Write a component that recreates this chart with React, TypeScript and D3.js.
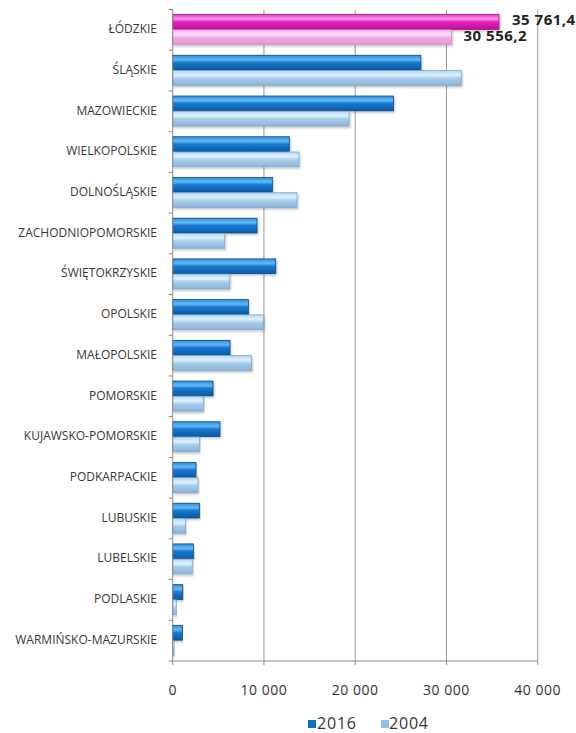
import React from "react";
import * as d3 from "d3";

const categories = [
  "ŁÓDZKIE",
  "ŚLĄSKIE",
  "MAZOWIECKIE",
  "WIELKOPOLSKIE",
  "DOLNOŚLĄSKIE",
  "ZACHODNIOPOMORSKIE",
  "ŚWIĘTOKRZYSKIE",
  "OPOLSKIE",
  "MAŁOPOLSKIE",
  "POMORSKIE",
  "KUJAWSKO-POMORSKIE",
  "PODKARPACKIE",
  "LUBUSKIE",
  "LUBELSKIE",
  "PODLASKIE",
  "WARMIŃSKO-MAZURSKIE",
];
const values2016 = [35761.4, 27200, 24200, 12780, 10920, 9240, 11290, 8290, 6280, 4420, 5180, 2550, 2920, 2260, 1100, 1060];
const values2004 = [30556.2, 31620, 19320, 13840, 13620, 5700, 6250, 9930, 8620, 3360, 2920, 2770, 1420, 2150, 440, 150];
const xTicks = [0, 10000, 20000, 30000, 40000];
const seriesNames = ["2016", "2004"];
const highlightLabels = ["35 761,4", "30 556,2"];

const W = 576;
const H = 733;
const left = 172.7;
const right = 537.7;
const top = 9.5;
const bottom = 661;

const fmt = (v: number) => (v === 0 ? "0" : d3.format(",")(v).replace(/,/g, " "));

export default function App() {
  const x = d3.scaleLinear().domain([0, 40000]).range([left, right]);
  const y = d3.scaleBand<string>().domain(categories).range([top, bottom]).paddingInner(0.25).paddingOuter(0.125);
  const step = y.step();
  const bw = y.bandwidth() / 2;
  const font = "'Open Sans', 'DejaVu Sans', sans-serif";

  const fillFor = (i: number, s: number) => {
    if (i === 0) return s === 0 ? "url(#gPink1)" : "url(#gPink2)";
    return s === 0 ? "url(#gBlue1)" : "url(#gBlue2)";
  };
  const strokeFor = (i: number, s: number) => {
    if (i === 0) return s === 0 ? "#a8108a" : "#d890cc";
    return s === 0 ? "#0b4a86" : "#7fa8cf";
  };

  return (
    <svg width={W} height={H} style={{ position: "absolute", left: 0, top: 0, background: "#fff" }} fontFamily={font}>
      <defs>
        <linearGradient id="gBlue1" x1="0" y1="0" x2="0" y2="1">
          <stop offset="0" stopColor="#2d8ee2" />
          <stop offset="0.3" stopColor="#62b9f5" />
          <stop offset="0.5" stopColor="#177ad0" />
          <stop offset="1" stopColor="#0a5aa6" />
        </linearGradient>
        <linearGradient id="gBlue2" x1="0" y1="0" x2="0" y2="1">
          <stop offset="0" stopColor="#b6d6f0" />
          <stop offset="0.3" stopColor="#dcf1ff" />
          <stop offset="0.55" stopColor="#a6cae9" />
          <stop offset="1" stopColor="#8cb5da" />
        </linearGradient>
        <linearGradient id="gPink1" x1="0" y1="0" x2="0" y2="1">
          <stop offset="0" stopColor="#e840c6" />
          <stop offset="0.3" stopColor="#f890ea" />
          <stop offset="0.5" stopColor="#e023bc" />
          <stop offset="1" stopColor="#c0109c" />
        </linearGradient>
        <linearGradient id="gPink2" x1="0" y1="0" x2="0" y2="1">
          <stop offset="0" stopColor="#f6b6ec" />
          <stop offset="0.3" stopColor="#ffd9f8" />
          <stop offset="0.55" stopColor="#efa9e4" />
          <stop offset="1" stopColor="#e398d6" />
        </linearGradient>
        <filter id="shadow" x="-5%" y="-20%" width="110%" height="160%">
          <feDropShadow dx="1" dy="1.5" stdDeviation="1" floodColor="#000" floodOpacity="0.25" />
        </filter>
      </defs>

      {/* gridlines */}
      {xTicks.slice(1).map((t) => (
        <line key={t} x1={x(t)} x2={x(t)} y1={top} y2={bottom} stroke="#9a9a9a" strokeWidth={1} />
      ))}

      {/* bars */}
      {categories.map((c, i) => {
        const y0 = y(c)!;
        return (
          <g key={c}>
            {[values2016[i], values2004[i]].map((v, s) => (
              <rect
                key={s}
                x={x(0)}
                y={y0 + s * bw}
                width={Math.max(0.5, x(v) - x(0))}
                height={bw - 0.5}
                fill={fillFor(i, s)}
                stroke={strokeFor(i, s)}
                strokeWidth={0.8}
                filter="url(#shadow)"
              />
            ))}
          </g>
        );
      })}

      {/* left axis */}
      <line x1={left} x2={left} y1={top} y2={bottom} stroke="#8a8a8a" strokeWidth={1} />
      {d3.range(categories.length + 1).map((k) => (
        <line key={k} x1={left - 4} x2={left} y1={top + k * step} y2={top + k * step} stroke="#8a8a8a" />
      ))}
      {categories.map((c) => (
        <text
          key={c}
          x={157}
          y={y(c)! + y.bandwidth() / 2}
          textAnchor="end"
          dominantBaseline="middle"
          fontSize={12}
          fill="#383838"
        >
          {c}
        </text>
      ))}

      {/* bottom axis */}
      <line x1={left} x2={right} y1={bottom} y2={bottom} stroke="#8a8a8a" />
      {xTicks.map((t) => (
        <g key={t}>
          <line x1={x(t)} x2={x(t)} y1={bottom} y2={bottom + 4} stroke="#8a8a8a" />
          <text x={x(t)} y={695} textAnchor="middle" fontSize={14} letterSpacing={0.5} fill="#333">
            {fmt(t)}
          </text>
        </g>
      ))}

      {/* data labels for first category */}
      <text x={x(values2016[0]) + 13} y={20.5} dominantBaseline="middle" fontSize={15} letterSpacing={0.5} fontWeight="bold" fill="#222">
        {highlightLabels[0]}
      </text>
      <text x={x(values2004[0]) + 12} y={37} dominantBaseline="middle" fontSize={15} letterSpacing={0.5} fontWeight="bold" fill="#222">
        {highlightLabels[1]}
      </text>

      {/* legend */}
      <rect x={308} y={720} width={8} height={8} fill="#0f6fc6" />
      <text x={317} y={729} fontSize={16} letterSpacing={0.8} fill="#333">{seriesNames[0]}</text>
      <rect x={381} y={720} width={8} height={8} fill="#95bfe4" />
      <text x={389} y={729} fontSize={16} letterSpacing={0.8} fill="#333">{seriesNames[1]}</text>
    </svg>
  );
}
